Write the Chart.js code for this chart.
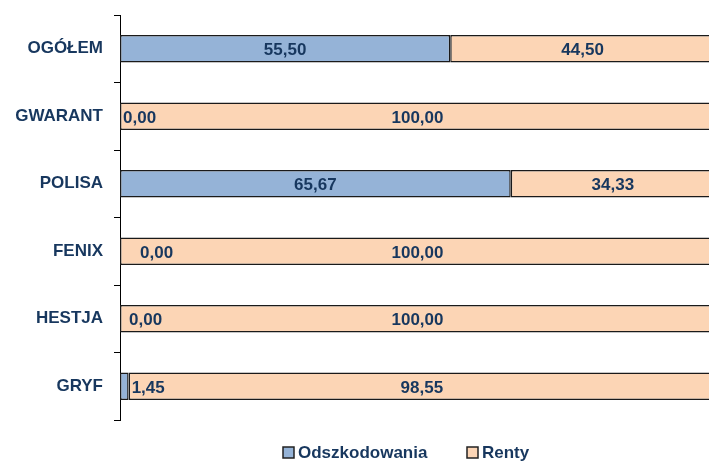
<!DOCTYPE html>
<html>
<head>
<meta charset="utf-8">
<script src="https://cdn.jsdelivr.net/npm/chart.js@4/dist/chart.umd.min.js"></script>
<style>
    html, body { margin: 0; padding: 0; background: #fff; overflow: hidden; }
    #wrap { width: 715px; height: 461px; }
</style>
</head>
<body>
<div id="wrap"><canvas id="sharesChart" width="715" height="461"></canvas></div>
<script>
const categories = ['OGÓŁEM', 'GWARANT', 'POLISA', 'FENIX', 'HESTJA', 'GRYF'];
const odszkodowania = [55.50, 0.00, 65.67, 0.00, 0.00, 1.45];
const renty = [44.50, 100.00, 34.33, 100.00, 100.00, 98.55];
const seriesNames = ['Odszkodowania', 'Renty'];

const textColor = '#17375E';
const boldFont = 'bold 17px "Liberation Sans", Arial, sans-serif';

// excel nudged a few of the small labels by hand
const smallLabelNudge = { FENIX: 17, HESTJA: 6 };

const fmt = v => v.toFixed(2).replace('.', ',');

const valueLabels = {
    id: 'valueLabels',
    afterDatasetsDraw(chart) {
        const ctx = chart.ctx;
        ctx.save();
        ctx.font = boldFont;
        ctx.fillStyle = textColor;
        ctx.textBaseline = 'middle';
        chart.data.datasets.forEach((ds, di) => {
            const meta = chart.getDatasetMeta(di);
            meta.data.forEach((bar, i) => {
                const txt = fmt(ds.data[i]);
                const w = ctx.measureText(txt).width;
                const left = Math.min(bar.base, bar.x);
                const right = Math.max(bar.base, bar.x);
                const y = bar.y + 2;
                if (right - left < w + 6) {
                    ctx.textAlign = 'left';
                    ctx.fillText(txt, right + 3 + (smallLabelNudge[categories[i]] || 0), y);
                } else {
                    ctx.textAlign = 'center';
                    ctx.fillText(txt, (left + right) / 2, y);
                }
            });
        });
        ctx.restore();
    }
};

const bottomLegend = {
    id: 'bottomLegend',
    afterDraw(chart) {
        const ctx = chart.ctx;
        const spots = [283, 467];
        ctx.save();
        ctx.font = boldFont;
        ctx.textBaseline = 'middle';
        ctx.textAlign = 'left';
        chart.data.datasets.forEach((ds, di) => {
            const x = spots[di];
            ctx.fillStyle = ds.backgroundColor;
            ctx.fillRect(x, 447, 11, 11);
            ctx.strokeStyle = '#222';
            ctx.lineWidth = 1.5;
            ctx.strokeRect(x, 447, 11, 11);
            ctx.fillStyle = textColor;
            ctx.fillText(ds.label, x + 15, 453);
        });
        ctx.restore();
    }
};

const ctx = document.getElementById('sharesChart').getContext('2d');
const sharesChart = new Chart(ctx, {
    type: 'bar',
    data: {
        labels: categories,
        datasets: [{
            label: seriesNames[0],
            data: odszkodowania,
            backgroundColor: '#95B3D7',
            borderColor: '#1a1a1a',
            borderWidth: 1.5,
            borderSkipped: false
        }, {
            label: seriesNames[1],
            data: renty,
            backgroundColor: '#FCD5B5',
            borderColor: '#1a1a1a',
            borderWidth: 1.5,
            borderSkipped: false
        }]
    },
    options: {
        indexAxis: 'y',
        responsive: false,
        animation: false,
        layout: {
            padding: { top: 15, bottom: 41, left: 0, right: 0 }
        },
        datasets: {
            bar: {
                categoryPercentage: 1,
                barPercentage: 0.41
            }
        },
        scales: {
            x: {
                stacked: true,
                display: false,
                min: 0,
                max: 100
            },
            y: {
                stacked: true,
                afterFit: scale => {
                    scale.width = 120;
                    scale.paddingTop = 0;
                    scale.paddingBottom = 0;
                },
                grid: {
                    drawOnChartArea: false,
                    color: '#000',
                    tickLength: 6,
                    offset: true
                },
                border: { display: true, color: '#000', width: 1 },
                ticks: {
                    color: textColor,
                    font: { family: '"Liberation Sans", Arial, sans-serif', size: 17, weight: 'bold' },
                    padding: 11
                }
            }
        },
        plugins: {
            legend: { display: false },
            tooltip: { enabled: false }
        }
    },
    plugins: [valueLabels, bottomLegend]
});
</script>
</body>
</html>
